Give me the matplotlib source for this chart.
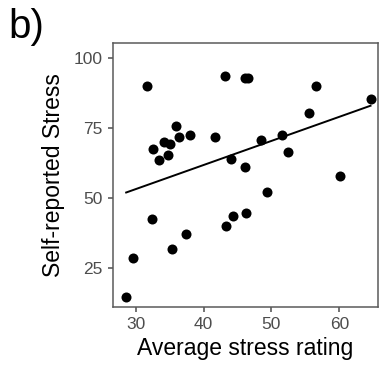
import matplotlib
matplotlib.use("Agg")
import matplotlib.pyplot as plt
import numpy as np

# 数据
avg_rating = [31.6, 43.1, 46.1, 46.6, 56.5, 64.6, 55.5, 36.0, 32.5, 34.1,
              35.1, 36.4, 38.0, 33.4, 34.8, 41.7, 48.5, 51.5, 44.0, 52.5,
              46.1, 60.1, 49.3, 32.4, 44.4, 46.2, 43.3, 37.4, 35.4, 29.6, 28.6]
self_stress = [90.2, 93.8, 92.9, 92.9, 90.2, 85.4, 80.6, 75.9, 67.5, 70.0,
               69.4, 72.0, 72.6, 63.7, 65.5, 72.1, 70.7, 72.7, 63.9, 66.5,
               61.3, 58.1, 52.4, 42.5, 43.7, 44.9, 40.2, 37.4, 32.0, 28.6, 14.6]
x_ticks = [30, 40, 50, 60]
y_ticks = [25, 50, 75, 100]

plt.rcParams.update({
    "font.family": ["Liberation Sans", "DejaVu Sans"],
})

fig = plt.figure(figsize=(3.81, 3.67), dpi=100)
ax = fig.add_axes([113 / 381, 1 - 307 / 367, 265 / 381, 264 / 367])

x = np.array(avg_rating)
y = np.array(self_stress)
ax.scatter(x, y, s=52, color="black", zorder=3, linewidths=0)

# 线性拟合
k, b = np.polyfit(x, y, 1)
xs = np.array([x.min(), x.max()])
ax.plot(xs, k * xs + b, color="black", linewidth=1.4, zorder=2)

ax.set_xlim(26.66, 65.7)
ax.set_ylim(11.2, 105.5)
ax.set_xticks(x_ticks)
ax.set_yticks(y_ticks)
ax.tick_params(colors="#4D4D4D", labelsize=12.5, length=3.5, width=1.1, pad=4)
for sp in ax.spines.values():
    sp.set_color("#5a5a5a")
    sp.set_linewidth(1.1)

ax.set_xlabel("Average stress rating", fontsize=16.5, labelpad=3)
ax.set_ylabel("Self-reported Stress", fontsize=16.5, labelpad=6)

fig.text(8 / 381, 1 - 8 / 367, "b)", fontsize=29, va="top", ha="left")

fig.savefig("out.png", dpi=100)
